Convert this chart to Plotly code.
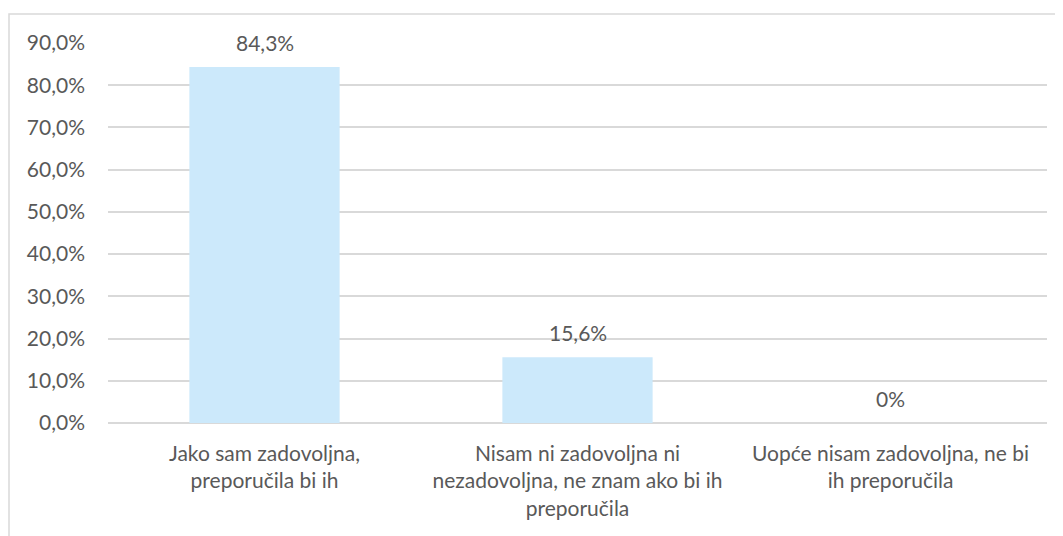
import plotly.graph_objects as go

categories = [
    "Jako sam zadovoljna,<br>preporučila bi ih",
    "Nisam ni zadovoljna ni<br>nezadovoljna, ne znam ako bi ih<br>preporučila",
    "Uopće nisam zadovoljna, ne bi<br>ih preporučila",
]
values = [84.3, 15.6, 0.0]
value_labels = ["84,3%", "15,6%", "0%"]
y_ticks = [0, 10, 20, 30, 40, 50, 60, 70, 80, 90]
y_tick_labels = ["0,0%", "10,0%", "20,0%", "30,0%", "40,0%", "50,0%",
                 "60,0%", "70,0%", "80,0%", "90,0%"]

TEXT = "#595959"
GRID = "#D9D9D9"
FONT = "Lato"
FS = 21

fig = go.Figure()
fig.add_trace(go.Bar(
    x=categories, y=values,
    marker=dict(color="#CCE9FB", line=dict(width=0)),
    width=0.48,
    hoverinfo="skip",
))

for c, v, t in zip(categories, values, value_labels):
    fig.add_annotation(x=c, y=v, text=t, showarrow=False,
                       xref="x", yref="y", yanchor="middle", yshift=25,
                       font=dict(family=FONT, size=FS, color=TEXT))

# page has an 8px body margin; size the figure to fit the window
W, H = 1055, 528
ml, mr, mt, mb = 100, 16, 35, 113
pw, ph = W - ml - mr, H - mt - mb
fig.add_shape(type="rect", xref="paper", yref="paper",
              x0=(1 - ml) / pw, x1=(W + 5 - ml) / pw,
              y0=-(mb + 5) / ph, y1=(H - mb - 6) / ph,
              line=dict(color=GRID, width=1.5), fillcolor="rgba(0,0,0,0)", layer="below")

fig.update_layout(
    width=W, height=H,
    margin=dict(l=ml, r=mr, t=mt, b=mb),
    paper_bgcolor="white", plot_bgcolor="white",
    showlegend=False,
    font=dict(family=FONT, size=FS, color=TEXT),
    xaxis=dict(showgrid=False, showline=False, ticks="", zeroline=False,
               tickfont=dict(family=FONT, size=FS, color=TEXT),
               ticklabelstandoff=16),
    yaxis=dict(range=[0, 90], tickvals=y_ticks, ticktext=y_tick_labels,
               showgrid=True, gridcolor=GRID, gridwidth=1.5,
               zeroline=True, zerolinecolor=GRID, zerolinewidth=1.5,
               showline=False, ticks="",
               tickfont=dict(family=FONT, size=FS, color=TEXT),
               ticklabelstandoff=22),
)

fig.write_html("out.html")
